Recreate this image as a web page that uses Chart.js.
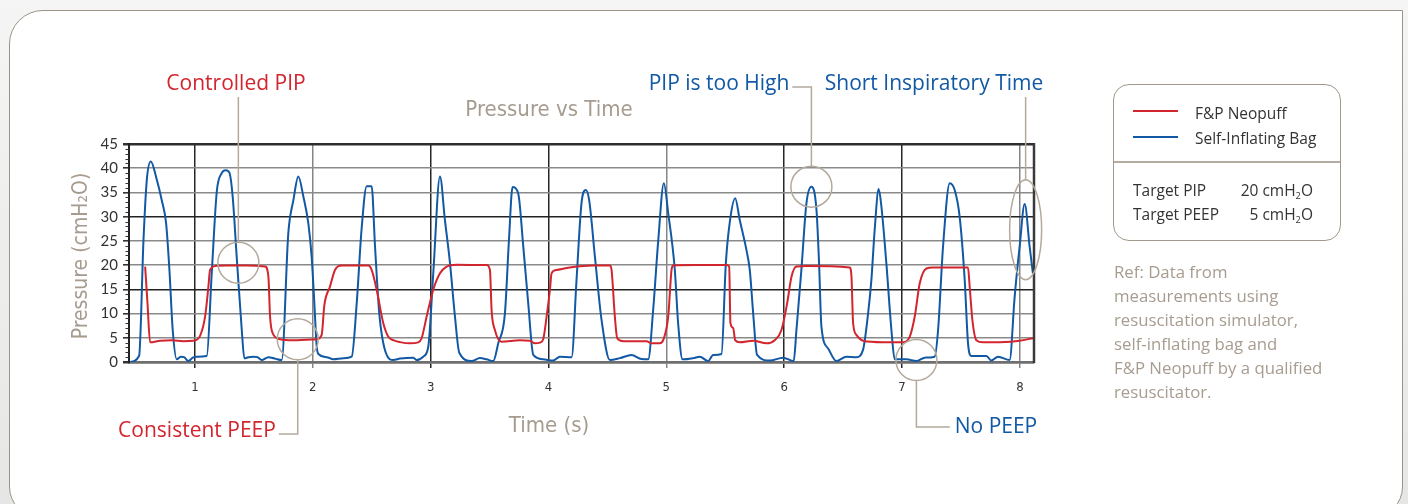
<!DOCTYPE html>
<html>
<head>
<meta charset="utf-8">
<script src="https://cdn.jsdelivr.net/npm/chart.js@4.4.1/dist/chart.umd.min.js"></script>
<style>
  html, body { margin: 0; padding: 0; }
  body { width: 1408px; height: 504px; overflow: hidden; position: relative;
         background: linear-gradient(to bottom, #f5f5f5, #e6e6e6); font-family: 'Open Sans', sans-serif; }
  #frame { position: absolute; left: 9px; top: 10px; width: 1392px; height: 505px;
           border: 1.5px solid #9d9286; border-radius: 34px 0 30px 30px; background: #fff; }
  #wrap { position: absolute; left: 0; top: 0; width: 1408px; height: 504px; }
  #legend { position: absolute; left: 1113px; top: 84px; width: 226px; height: 155px;
            border: 1.5px solid #a2978a; border-radius: 16px; color: #333; font-size: 15.5px; }
  #legend .sw { position: absolute; left: 19px; width: 45px; height: 2px; }
  #legend .lb { position: absolute; left: 81px; line-height: 20px; }
  #legend .div { position: absolute; left: 0; right: 0; top: 76px; height: 1.5px; background: #b5aba0; }
  #legend .row { position: absolute; left: 19px; width: 180px; line-height: 20px; }
  #legend .row span { position: absolute; right: 0; }
  sub { font-size: 60%; vertical-align: -3px; line-height: 0; }
  #note { position: absolute; left: 1114px; top: 260px; width: 260px; color: #a79c90;
          font-size: 16.8px; line-height: 24px; }
</style>
</head>
<body>
<div id="frame"></div>
<div id="wrap"><canvas id="pressureChart"></canvas></div>
<div id="legend">
  <div class="sw" style="top:25px;background:#d3252d"></div>
  <div class="lb" style="top:18px">F&amp;P Neopuff</div>
  <div class="sw" style="top:51px;background:#1158a5"></div>
  <div class="lb" style="top:43px">Self-Inflating Bag</div>
  <div class="div"></div>
  <div class="row" style="top:95px">Target PIP<span>20 cmH<sub>2</sub>O</span></div>
  <div class="row" style="top:119px">Target PEEP<span>5 cmH<sub>2</sub>O</span></div>
</div>
<div id="note">Ref: Data from<br>measurements using<br>resuscitation simulator,<br>self-inflating bag and<br>F&amp;P Neopuff by a qualified<br>resuscitator.</div>
<script>
// 시간(초) / 압력(cmH2O) - 그림에서 읽은 값
const neopuffTime = [0.577,0.597,0.619,0.704,0.803,0.902,0.987,1.043,1.086,1.114,1.128,1.170,1.269,1.439,1.595,1.623,1.637,1.660,1.722,1.835,
  2.033,2.075,2.098,2.146,2.188,2.245,2.471,2.499,2.542,2.598,2.641,2.683,2.740,2.824,2.895,2.923,2.966,3.022,3.079,3.135,
  3.220,3.475,3.503,3.517,3.545,3.602,3.757,3.842,3.885,3.927,3.955,3.984,4.012,4.026,4.068,4.181,4.379,4.521,4.535,4.563,
  4.583,4.634,4.832,4.874,4.945,4.973,5.016,5.044,5.058,5.256,5.510,5.533,5.544,5.567,5.584,5.623,5.737,5.850,5.920,5.977,
  6.025,6.062,6.104,6.189,6.556,6.571,6.585,6.613,6.669,6.839,7.009,7.065,7.108,7.150,7.207,7.263,7.560,7.574,7.597,7.631,
  7.687,7.829,7.998,8.111];
const neopuffPressure = [19.7,12.1,4.06,4.4,4.5,4.3,4.4,5.4,9.4,15.6,19.0,19.8,19.9,19.9,19.7,17.6,9.4,5.9,4.7,4.5,
  4.7,5.6,11.8,15.6,19.0,19.9,19.9,19.0,14.9,8.0,5.2,4.5,4.1,3.85,4.06,4.9,9.4,14.9,18.3,19.7,
  20.1,20.0,19.0,10.7,6.6,4.2,4.5,4.4,3.85,4.0,4.7,9.4,14.9,18.3,19.0,19.5,19.9,19.9,19.0,9.4,
  4.9,4.3,4.3,3.85,3.85,4.5,9.4,19.0,19.9,20.0,20.0,19.7,8.0,7.0,4.5,4.06,4.4,3.85,4.5,6.6,
  12.1,17.6,19.7,19.8,19.5,17.6,8.0,5.6,4.4,4.1,4.1,5.2,9.4,16.2,19.3,19.5,19.5,15.6,8.7,4.5,
  4.06,4.1,4.4,4.9];

const bagTime = [0.444,0.526,0.563,0.591,0.625,0.676,0.718,0.755,0.783,0.811,0.845,0.879,0.908,0.944,0.981,1.015,1.100,1.142,1.185,1.227,
  1.261,1.292,1.320,1.354,1.397,1.419,1.453,1.496,1.530,1.566,1.623,1.679,1.736,1.792,1.835,1.877,1.920,1.962,1.990,2.010,
  2.033,2.047,2.118,2.174,2.259,2.330,2.372,2.414,2.457,2.499,2.528,2.564,2.621,2.683,2.740,2.853,2.881,2.937,2.980,3.022,
  3.079,3.121,3.164,3.206,3.243,3.348,3.418,3.475,3.531,3.574,3.630,3.664,3.695,3.743,3.786,3.828,3.871,3.955,4.040,4.097,
  4.196,4.238,4.280,4.317,4.345,4.394,4.450,4.521,4.606,4.705,4.789,4.846,4.888,4.931,4.979,5.016,5.072,5.100,5.137,5.228,
  5.284,5.355,5.397,5.468,5.505,5.539,5.584,5.623,5.680,5.708,5.737,5.770,5.878,5.991,6.081,6.104,6.146,6.189,6.231,6.274,
  6.296,6.316,6.373,6.443,6.528,6.613,6.669,6.712,6.740,6.768,6.802,6.825,6.867,6.910,6.938,7.037,7.122,7.193,7.277,7.306,
  7.348,7.405,7.447,7.489,7.532,7.560,7.588,7.716,7.758,7.815,7.913,7.956,7.998,8.041,8.083,8.111];
const bagPressure = [0,1.3,25.2,37.6,41.4,37.6,33.4,28.6,19.0,6.6,0.55,1.1,1.0,0.2,0.9,1.1,1.24,18.3,35.2,39.0,
  39.6,39.1,34.1,21.7,6.6,0.76,1.0,1.1,1.0,0.4,1.0,0.7,0.4,26.6,33.4,38.3,34.1,28.6,21.7,13.5,
  3.2,1.65,1.0,0.55,0.76,1.1,12,27.5,36.3,36.3,23.8,10,1.8,0.4,0.7,0.9,0.4,1.1,3.2,18.3,
  38.3,29.3,20.4,9.4,1.9,0.2,0.8,0.55,0.2,3.9,10.0,25,36.1,34.8,23.8,12.1,1.45,0.55,0.3,1.1,
  1.0,17,32.8,35.5,33.4,21.7,8.7,0.4,0.8,1.45,0.6,0.55,10.7,25,36.9,30.7,19.0,8.0,0.55,0.8,
  1.1,0.2,1.45,1.65,20.4,29,33.8,29.3,23.1,19.0,10.0,1.45,0.3,0.9,0.2,6.6,19.0,32.8,36.2,31.4,
  20.4,7.3,2.8,0.2,1.1,1.0,2.5,10.0,16.9,27.3,35.7,32.1,20.4,6.6,0.55,0.55,0.2,0.9,1.1,6.6,
  23.8,36.9,35.5,30.0,16.9,3.9,1.24,1.24,0.3,1.1,0.4,13.5,23.8,32.6,23.8,18.3];

const xTicks = [1, 2, 3, 4, 5, 6, 7, 8];
const yTicks = [0, 5, 10, 15, 20, 25, 30, 35, 40, 45];

const RED = '#d3252d';
const BLUE = '#1158a5';
const RING = '#b3a99c';
const GREY_TXT = '#a69b8f';
const NARROW = "'Liberation Sans Narrow', 'DejaVu Sans Condensed', 'Open Sans', sans-serif";
const LABEL = "'Open Sans', sans-serif";

// 주석(동그라미): 데이터 좌표로 위치 지정
const notes = [
  { text: 'Controlled PIP', color: RED, t: 1.368, p: 20.5, rx: 20.5, ry: 20.5, tx: 236, ty: 84, path: 'up' },
  { text: 'Consistent PEEP', color: RED, t: 1.872, p: 4.7, rx: 20.5, ry: 20.5, tx: 197, ty: 431, path: 'downLeft' },
  { text: 'PIP is too High', color: BLUE, t: 6.231, p: 36.2, rx: 20.5, ry: 20.5, tx: 719, ty: 84, path: 'upLeft' },
  { text: 'Short Inspiratory Time', color: BLUE, t: 8.049, p: 27.3, rx: 16, ry: 50, tx: 934, ty: 84, path: 'up' },
  { text: 'No PEEP', color: BLUE, t: 7.122, p: 0.4, rx: 20.5, ry: 20.5, tx: 996, ty: 427, path: 'downRight' }
];

function pairs(xs, ys) {
  return xs.map(function(v, i) { return { x: v, y: ys[i] }; });
}

const decor = {
  id: 'decor',
  afterDraw: function(chart) {
    const ctx = chart.ctx;
    const a = chart.chartArea;
    const sx = chart.scales.x, sy = chart.scales.y;
    ctx.save();

    // 오른쪽 테두리
    ctx.strokeStyle = '#3a3a3a';
    ctx.lineWidth = 2.5;
    ctx.beginPath();
    ctx.moveTo(a.right, a.top - 1);
    ctx.lineTo(a.right, a.bottom + 1);
    ctx.stroke();

    // y축 보조 눈금
    ctx.strokeStyle = '#333';
    ctx.lineWidth = 1;
    for (let v = 1; v < 45; v++) {
      if (v % 5 === 0) continue;
      const py = Math.round(sy.getPixelForValue(v)) + 0.5;
      ctx.beginPath();
      ctx.moveTo(a.left - 3.5, py);
      ctx.lineTo(a.left, py);
      ctx.stroke();
    }

    // 제목, 축 제목
    ctx.fillStyle = GREY_TXT;
    ctx.textAlign = 'center';
    ctx.textBaseline = 'middle';
    ctx.font = '22px ' + NARROW;
    ctx.fillText('Pressure vs Time', 549, 110);
    ctx.fillText('Time (s)', 549, 426);
    ctx.save();
    ctx.translate(82, 256);
    ctx.rotate(-Math.PI / 2);
    ctx.font = '21px ' + NARROW;
    ctx.fillText('Pressure (cmH\u2082O)', 0, 0);
    ctx.restore();

    // 주석
    ctx.font = '21px ' + LABEL;
    notes.forEach(function(n) {
      const cx = sx.getPixelForValue(n.t);
      const cy = sy.getPixelForValue(n.p);
      ctx.strokeStyle = RING;
      ctx.lineWidth = 1.5;
      ctx.beginPath();
      ctx.ellipse(cx, cy, n.rx, n.ry, 0, 0, Math.PI * 2);
      ctx.stroke();

      ctx.fillStyle = n.color;
      ctx.fillText(n.text, n.tx, n.ty);
      const w = ctx.measureText(n.text).width;

      ctx.beginPath();
      if (n.path === 'up') {
        ctx.moveTo(cx, cy - n.ry);
        ctx.lineTo(cx, n.ty + 13);
      } else if (n.path === 'upLeft') {
        ctx.moveTo(cx, cy - n.ry);
        ctx.lineTo(cx, n.ty + 3);
        ctx.lineTo(n.tx + w / 2 + 3, n.ty + 3);
      } else if (n.path === 'downLeft') {
        ctx.moveTo(cx, cy + n.ry);
        ctx.lineTo(cx, n.ty + 3);
        ctx.lineTo(n.tx + w / 2 + 3, n.ty + 3);
      } else {
        ctx.moveTo(cx, cy + n.ry);
        ctx.lineTo(cx, n.ty);
        ctx.lineTo(n.tx - w / 2 - 5, n.ty);
      }
      ctx.stroke();
    });
    ctx.restore();
  }
};

const context = document.getElementById('pressureChart').getContext('2d');
const pressureChart = new Chart(context, {
  type: 'line',
  data: {
    datasets: [
      {
        label: 'F&P Neopuff',
        data: pairs(neopuffTime, neopuffPressure),
        borderColor: RED,
        borderWidth: 2,
        pointRadius: 0,
        cubicInterpolationMode: 'monotone'
      },
      {
        label: 'Self-Inflating Bag',
        data: pairs(bagTime, bagPressure),
        borderColor: BLUE,
        borderWidth: 2,
        pointRadius: 0,
        cubicInterpolationMode: 'monotone'
      }
    ]
  },
  options: {
    responsive: true,
    maintainAspectRatio: false,
    animation: false,
    layout: { padding: { left: 20, top: 144, right: 374, bottom: 102 } },
    plugins: {
      legend: { display: false },
      title: { display: false },
      tooltip: { enabled: false }
    },
    scales: {
      x: {
        type: 'linear',
        min: 0.44,
        max: 8.12,
        afterBuildTicks: function(s) { s.ticks = xTicks.map(function(v) { return { value: v }; }); },
        ticks: { color: '#333', font: { family: NARROW, size: 13 }, padding: 12, maxRotation: 0 },
        grid: {
          color: function(c) { return [2, 5, 8].includes(c.tick.value) ? '#858585' : '#262626'; },
          tickColor: function(c) { return [2, 5, 8].includes(c.tick.value) ? '#858585' : '#262626'; },
          lineWidth: 1.5,
          tickLength: 6
        },
        border: { color: '#6f6f6f', width: 2.5 },
        afterFit: function(s) { s.height = 40; }
      },
      y: {
        min: 0,
        max: 45,
        afterBuildTicks: function(s) { s.ticks = yTicks.map(function(v) { return { value: v }; }); },
        ticks: { color: '#333', font: { family: "'Lato', sans-serif", size: 15 }, padding: 5 },
        grid: {
          color: function(c) {
            const v = c.tick.value;
            if (v === 45) return '#2e2e2e';
            if (v === 0) return '#6f6f6f';
            return (v === 15 || v === 30) ? '#222' : '#8a8a8a';
          },
          lineWidth: function(c) { return (c.tick.value === 45 || c.tick.value === 0) ? 2.5 : 1.6; },
          tickColor: '#333',
          tickLength: 6
        },
        border: { color: '#222', width: 2 },
        afterFit: function(s) { s.width = 109; }
      }
    }
  },
  plugins: [decor]
});
</script>
</body>
</html>
